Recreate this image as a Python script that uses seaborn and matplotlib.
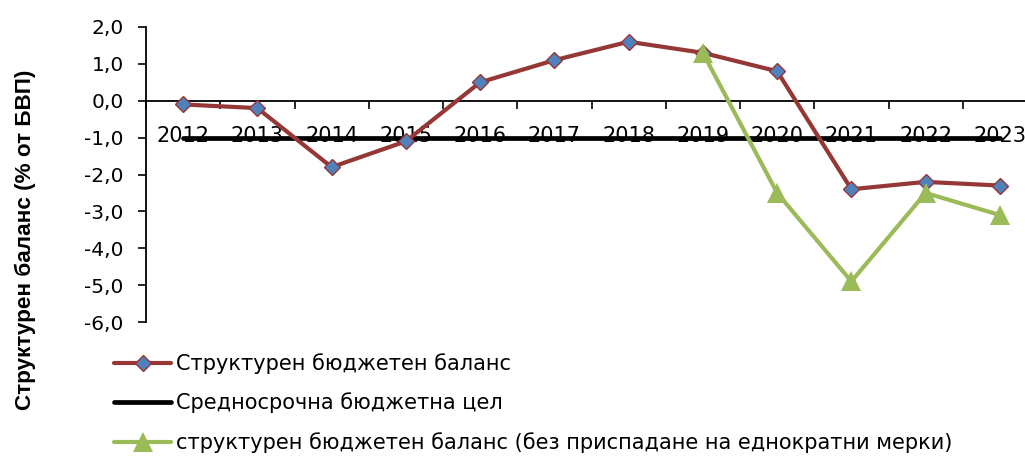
import numpy as np
import pandas as pd
import matplotlib
matplotlib.use("Agg")
import matplotlib.pyplot as plt
import seaborn as sns

years = ["2012", "2013", "2014", "2015", "2016", "2017",
         "2018", "2019", "2020", "2021", "2022", "2023"]
structural = [-0.1, -0.2, -1.8, -1.1, 0.5, 1.1, 1.6, 1.3, 0.8, -2.4, -2.2, -2.3]
mto = [-1.0] * 12
structural_no_oneoff = [np.nan] * 7 + [1.3, -2.5, -4.9, -2.5, -3.1]

lbl_struct = "Структурен бюджетен баланс"
lbl_mto = "Средносрочна бюджетна цел"
lbl_green = "структурен бюджетен баланс (без приспадане на еднократни мерки)"

sns.set_style("white")
plt.rcParams["font.family"] = ["DejaVu Sans"]
plt.rcParams["text.color"] = "black"
plt.rcParams["xtick.color"] = "black"
plt.rcParams["ytick.color"] = "black"

df = pd.DataFrame({"pos": np.arange(len(years)),
                   "s": structural, "m": mto, "g": structural_no_oneoff})

fig = plt.figure(figsize=(10.25, 4.57), dpi=100)
# the category axis runs a little past the right edge, as in the source
ax = fig.add_axes([146 / 1025, 1 - 322 / 457, (1037 - 146) / 1025, (322 - 27) / 457])

sns.lineplot(data=df, x="pos", y="m", ax=ax, color="black", lw=3.4,
             label=lbl_mto, zorder=3)
sns.lineplot(data=df, x="pos", y="s", ax=ax, color="#953735", lw=3,
             marker="D", markersize=8, markerfacecolor="#4F81BD",
             markeredgecolor="#953735", markeredgewidth=1,
             label=lbl_struct, zorder=4)
sns.lineplot(data=df.dropna(), x="pos", y="g", ax=ax, color="#9BBB59", lw=3,
             marker="^", markersize=14, markeredgewidth=0,
             label=lbl_green, zorder=5)

ax.set_xlim(-0.5, 11.5)
ax.set_ylim(-6, 2)
yt = np.arange(-6, 2.1, 1)
ax.set_yticks(yt)
ax.set_yticklabels([f"{v:.1f}".replace(".", ",") for v in yt])
ax.set_xticks(np.arange(len(years)))
ax.set_xticklabels(years)
ax.set_xticks(np.arange(-0.5, 11.6, 1), minor=True)
ax.tick_params(axis="x", which="major", length=0, pad=18.5, labelsize=15)
ax.tick_params(axis="x", which="minor", length=6, width=1.2, direction="out",
               bottom=True)
ax.tick_params(axis="y", length=6, width=1.2, direction="out", left=True,
               labelsize=14.5, pad=10)
ax.set_xlabel("")
ax.set_ylabel("")

for side in ["top", "right"]:
    ax.spines[side].set_visible(False)
ax.spines["bottom"].set_position(("data", 0))
for side in ["bottom", "left"]:
    ax.spines[side].set_linewidth(1.3)
    ax.spines[side].set_color("black")

fig.text(25 / 1025, 1 - 240 / 457, "Структурен баланс (% от БВП)",
         rotation=90, ha="center", va="center", fontsize=16.2,
         fontweight="bold", family="Liberation Sans")

h, l = ax.get_legend_handles_labels()
order = [l.index(lbl_struct), l.index(lbl_mto), l.index(lbl_green)]
ax.legend([h[i] for i in order], [l[i] for i in order],
          loc="upper left", bbox_to_anchor=(114 / 1025, 1 - 353 / 457),
          bbox_transform=fig.transFigure, frameon=False, fontsize=15,
          handlelength=2.75, handletextpad=0.25, labelspacing=0.9,
          borderpad=0, borderaxespad=0)

fig.savefig("out.png", dpi=100)
